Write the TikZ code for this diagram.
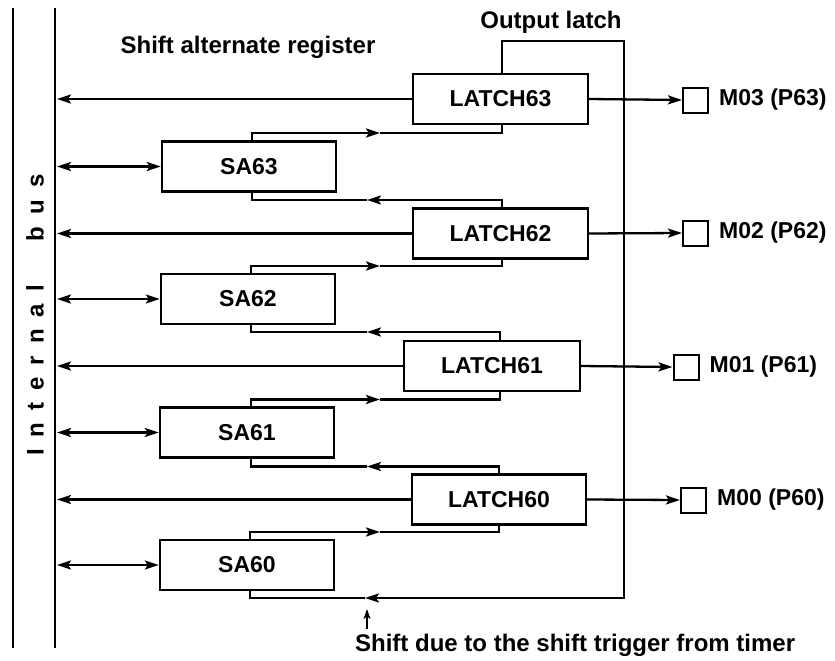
\documentclass[tikz,border=0pt]{standalone}
\usepackage{fontspec}
\setmainfont{Liberation Sans}
\usetikzlibrary{arrows.meta}
\newcommand\lgap{\hspace{12pt}}
\begin{document}
\begin{tikzpicture}[x=1pt,y=-1pt,line width=2.3pt,
  myarrow/.tip={Stealth[length=14pt,width=9pt,inset=3pt]},
  smallarrow/.tip={Stealth[length=10pt,width=7pt,inset=2.5pt]},
  reg/.style={draw,line width=2.4pt,minimum height=50pt,inner sep=0pt,
    font=\fontsize{23}{23}\selectfont\bfseries},
  pin/.style={draw,line width=2pt,minimum size=25pt,inner sep=0pt},
  pinlbl/.style={anchor=west,inner sep=0pt,font=\fontsize{23}{23}\selectfont\bfseries},
  title/.style={inner sep=0pt,font=\fontsize{24}{24}\selectfont\bfseries},
  busline/.style={line width=2.6pt}]
\useasboundingbox (0,0) rectangle (835,661);

% internal bus
\coordinate (obT) at (13,8);  \coordinate (obB) at (13,648);
\coordinate (ibT) at (55,8);  \coordinate (ibB) at (55,648);
\coordinate (bus) at (57,0);
\draw[busline] (obT) -- (obB);
\draw[busline] (ibT) -- (ibB);
\node[title,rotate=90] (buslbl) at (35,315) {I\lgap n\lgap t\lgap e\lgap r\lgap n\lgap a\lgap l\hspace{44pt}b\lgap u\lgap s};

% titles
\node[title] (sartitle) at (248,47) {Shift alternate register};
\node[title] (oltitle) at (551,22) {Output latch};

% latches
\node[reg,minimum width=175pt] (l63) at (500.5,99) {LATCH63};
\node[reg,minimum width=175pt] (l62) at (500.5,233.5) {LATCH62};
\node[reg,minimum width=176pt] (l61) at (492,366) {LATCH61};
\node[reg,minimum width=174pt] (l60) at (499,499.5) {LATCH60};

% shift alternate registers
\node[reg,minimum width=174pt] (sa63) at (249,166.5) {SA63};
\node[reg,minimum width=174pt] (sa62) at (248,299) {SA62};
\node[reg,minimum width=174pt] (sa61) at (247,432.5) {SA61};
\node[reg,minimum width=174pt] (sa60) at (247,565) {SA60};

% pins
\node[pin] (p3) at (695.5,100) {};
\node[pin] (p2) at (695.5,233) {};
\node[pin] (p1) at (686,367) {};
\node[pin] (p0) at (693.5,500) {};
\node[pinlbl] (t3) at ([xshift=9pt]p3.east) {M03 (P63)};
\node[pinlbl] (t2) at ([xshift=9pt]p2.east) {M02 (P62)};
\node[pinlbl] (t1) at ([xshift=9pt]p1.east) {M01 (P61)};
\node[pinlbl] (t0) at ([xshift=9pt]p0.east) {M00 (P60)};

% outputs
\draw[-myarrow] (l63.east) -- (p3.west);
\draw[-myarrow] (l62.east) -- (p2.west);
\draw[-myarrow] (l61.east) -- (p1.west);
\draw[-myarrow] (l60.east) -- (p0.west);

% bus connections
\draw[-myarrow] (l63.west) -- (l63.west -| bus);
\draw[-myarrow] (l62.west) -- (l62.west -| bus);
\draw[-myarrow] (l61.west) -- (l61.west -| bus);
\draw[-myarrow] (l60.west) -- (l60.west -| bus);
\draw[myarrow-myarrow] (sa63.west -| bus) -- (sa63.west);
\draw[myarrow-myarrow] (sa62.west -| bus) -- (sa62.west);
\draw[myarrow-myarrow] (sa61.west -| bus) -- (sa61.west);
\draw[myarrow-myarrow] (sa60.west -| bus) -- (sa60.west);

% shift chain
\coordinate (m1) at (380,133);
\draw[-myarrow] ([xshift=3pt]sa63.north) |- (m1);
\draw (m1) -| ([xshift=1.5pt]l63.south);

\coordinate (m2) at (367,200);
\draw[-myarrow] ([xshift=1.5pt]l62.north) |- (m2);
\draw (m2) -| ([xshift=3pt]sa63.south);

\coordinate (m3) at (380,266);
\draw[-myarrow] ([xshift=3pt]sa62.north) |- (m3);
\draw (m3) -| ([xshift=1.5pt]l62.south);

\coordinate (m4) at (367,332);
\draw[-myarrow] ([xshift=8pt]l61.north) |- (m4);
\draw (m4) -| ([xshift=3pt]sa62.south);

\coordinate (m5) at (380,399.5);
\draw[-myarrow] ([xshift=4pt]sa61.north) |- (m5);
\draw (m5) -| ([xshift=8pt]l61.south);

\coordinate (m6) at (367,466.5);
\draw[-myarrow] (l60.north) |- (m6);
\draw (m6) -| ([xshift=4pt]sa61.south);

\coordinate (m7) at (380,532);
\draw[-myarrow] ([xshift=3pt]sa60.north) |- (m7);
\draw (m7) -| (l60.south);

\coordinate (olc) at (624,41);
\coordinate (m8) at (365,598);
\draw[-myarrow] ([xshift=1.5pt]l63.north) |- (olc) |- (m8);
\draw (m8) -| ([xshift=3pt]sa60.south);

% shift trigger
\node[title,anchor=west] (trig) at (354,645) {Shift due to the shift trigger from timer};
\coordinate (trtip) at (367,609);
\draw[-smallarrow,line width=1.8pt] (trig.north -| trtip) ++(0,-4) -- (trtip);
\end{tikzpicture}
\end{document}
